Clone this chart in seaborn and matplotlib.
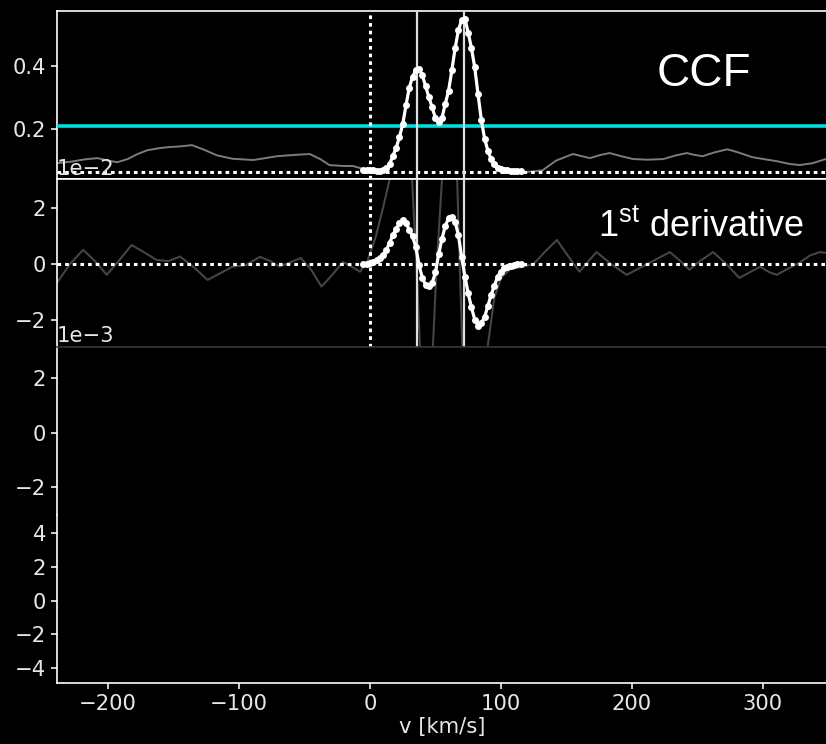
import numpy as np
import pandas as pd
import matplotlib
matplotlib.use("Agg")
import matplotlib.pyplot as plt
import seaborn as sns

# ---- data -------------------------------------------------------------
# fitted window (white points), km/s
v_fit = [-5, -2.5, 0, 2.5, 5, 7.5, 10, 12.5, 15, 17.5, 20, 22.5, 25, 27.5,
         30, 32.5, 35, 37.5, 40, 42.5, 45, 47.5, 50, 52.5, 55, 57.5, 60,
         62.5, 65, 67.5, 70, 72.5, 75, 77.5, 80, 82.5, 85, 87.5, 90, 92.5,
         95, 97.5, 100, 102.5, 105, 107.5, 110, 112.5, 115]
ccf_fit = [0.072, 0.071, 0.070, 0.069, 0.068, 0.068, 0.070, 0.076, 0.090,
           0.115, 0.140, 0.175, 0.215, 0.275, 0.330, 0.365, 0.385, 0.390,
           0.370, 0.335, 0.300, 0.268, 0.235, 0.222, 0.235, 0.280, 0.320,
           0.385, 0.455, 0.512, 0.545, 0.548, 0.505, 0.455, 0.395, 0.310,
           0.230, 0.170, 0.132, 0.105, 0.088, 0.078, 0.073, 0.070, 0.069,
           0.068, 0.068, 0.068, 0.068]
# first derivative in units of 1e-2 per km/s
d1_fit = [0.0, 0.0, 0.02, 0.07, 0.13, 0.20, 0.30, 0.50, 0.75, 1.03, 1.25,
          1.45, 1.55, 1.45, 1.22, 0.98, 0.60, -0.05, -0.50, -0.75, -0.80,
          -0.68, -0.30, 0.35, 0.90, 1.35, 1.62, 1.68, 1.50, 1.03, 0.25,
          -0.45, -1.05, -1.55, -1.98, -2.20, -2.10, -1.90, -1.50, -1.10,
          -0.78, -0.45, -0.28, -0.16, -0.10, -0.06, -0.03, -0.01, 0.0]

# full-range CCF (grey)
v_ccf_left = [-239, -228, -218, -208, -200, -193, -185, -178, -170, -160,
              -153, -145, -136, -127, -117, -105, -89, -80, -71, -58, -46,
              -38, -31, -20, -13, -7]
ccf_left = [0.092, 0.097, 0.104, 0.108, 0.100, 0.095, 0.105, 0.120, 0.133,
            0.140, 0.143, 0.145, 0.149, 0.135, 0.117, 0.106, 0.102, 0.108,
            0.114, 0.118, 0.121, 0.105, 0.086, 0.083, 0.083, 0.076]
v_ccf_right = [117, 125, 132, 142, 155, 162, 168, 176, 183, 192, 201, 212,
               224, 233, 242, 248, 254, 263, 273, 282, 292, 302, 311, 320,
               328, 338, 348, 360]
ccf_right = [0.064, 0.066, 0.070, 0.100, 0.121, 0.114, 0.108, 0.118, 0.124,
             0.114, 0.105, 0.103, 0.105, 0.116, 0.124, 0.118, 0.114, 0.126,
             0.136, 0.125, 0.111, 0.104, 0.098, 0.090, 0.086, 0.092, 0.105,
             0.112]

# full-range first derivative (grey), units of 1e-2 per km/s
v_d1_grey = [-239, -229, -219, -210, -201, -192, -182, -172, -163, -154,
             -145, -135, -124, -115, -105, -95, -84, -76, -69, -61, -53,
             -45, -37, -29, -20.6, -14, -7.6, -2, 4, 10, 15, 20, 26, 31,
             35.5, 40, 44, 48, 51, 55, 60, 65, 68.5, 72, 80, 86, 90, 95,
             100, 107, 117, 125, 134, 142.7, 151, 160, 166, 173, 184, 196,
             212, 229, 237, 244, 252, 262, 272, 282, 290, 298, 305, 310.7,
             318, 328, 336, 343.5, 350, 360]
d1_grey = [-0.67, 0.0, 0.50, 0.10, -0.39, 0.10, 0.67, 0.40, 0.14, 0.10,
           0.26, -0.10, -0.57, -0.35, -0.10, -0.05, 0.25, 0.10, -0.10, 0.05,
           0.21, -0.20, -0.81, -0.40, 0.07, -0.10, -0.28, 0.10, 0.90, 2.0,
           3.0, 4.5, 5.0, 4.0, 0.0, -5.0, -6.0, -3.0, 0.0, 3.0, 6.0, 5.5,
           0.0, -5.0, -8.0, -5.0, -2.9, -1.2, -0.5, -0.2, -0.10, 0.0, 0.45,
           0.85, 0.30, -0.28, 0.05, 0.42, 0.0, -0.39, 0.0, 0.42, 0.10, -0.21,
           0.10, 0.42, 0.0, -0.50, -0.30, -0.10, -0.30, -0.39, -0.20, 0.04,
           0.30, 0.42, 0.38, 0.20]

ccf_threshold = 0.209
ccf_zero = 0.065
v_centre = 0.0
v_peaks = [35.6, 71.8]

xlim = (-239, 349)

# ---- style ------------------------------------------------------------
FS = 15.2
sns.set_theme(style="dark", rc={
    "figure.facecolor": "black",
    "axes.facecolor": "black",
    "axes.edgecolor": "white",
    "axes.linewidth": 1.2,
    "text.color": "white",
    "axes.labelcolor": "#e6e6e6",
    "xtick.color": "#e6e6e6",
    "ytick.color": "#e6e6e6",
    "xtick.bottom": True,
    "ytick.left": True,
    "xtick.direction": "out",
    "ytick.direction": "out",
    "xtick.major.size": 4.5,
    "ytick.major.size": 4.5,
    "xtick.labelsize": FS,
    "ytick.labelsize": FS,
    "axes.labelsize": FS,
    "axes.grid": False,
    "mathtext.fontset": "custom",
    "mathtext.rm": "Liberation Sans",
})
plt.rcParams["font.family"] = ["DejaVu Sans"]

W, H = 826, 744
fig = plt.figure(figsize=(W / 100, H / 100), dpi=100)

left_px, right_px = 57, 827
edges = [11, 179, 346.5, 514.75, 683]
axes = []
for i in range(4):
    top, bot = edges[i], edges[i + 1]
    ax = fig.add_axes([left_px / W, 1 - bot / H,
                       (right_px - left_px) / W, (bot - top) / H])
    ax.set_xlim(*xlim)
    ax.spines["right"].set_visible(False)
    axes.append(ax)
ax1, ax2, ax3, ax4 = axes

dot = (0, (1.2, 1.3))

# ---- panel 1: CCF -----------------------------------------------------
grey_ccf = pd.DataFrame({
    "v": v_ccf_left + v_fit + v_ccf_right,
    "ccf": ccf_left + ccf_fit + ccf_right,
})
sns.lineplot(data=grey_ccf, x="v", y="ccf", ax=ax1, sort=False,
             color="#7c7c7c", lw=1.4, zorder=2)
ax1.axhline(ccf_threshold, color="#00dede", lw=2.6, zorder=3)
ax1.axhline(ccf_zero, color="white", lw=2.2, ls=dot, zorder=3)
fit = pd.DataFrame({"v": v_fit, "ccf": ccf_fit,
                    "d1": np.array(d1_fit) * 1e-2})
sns.lineplot(data=fit, x="v", y="ccf", ax=ax1, sort=False, color="white",
             lw=2.3, marker="o", markersize=5, markeredgewidth=0, zorder=5)
ax1.set_ylim(0.042, 0.573)
ax1.set_yticks([0.2, 0.4])
ax1.text(0.779, 0.554, "CCF", transform=ax1.transAxes, fontsize=33,
         family=["Liberation Sans", "DejaVu Sans"], ha="left", va="baseline",
         color="white")

# ---- panel 2: first derivative ---------------------------------------
grey_d1 = pd.DataFrame({"v": v_d1_grey, "d1": np.array(d1_grey) * 1e-2})
sns.lineplot(data=grey_d1, x="v", y="d1", ax=ax2, sort=False,
             color="#454545", lw=1.5, zorder=2)
ax2.axhline(0, color="white", lw=2.2, ls=dot, zorder=3)
sns.lineplot(data=fit, x="v", y="d1", ax=ax2, sort=False, color="white",
             lw=2.3, marker="o", markersize=5, markeredgewidth=0, zorder=5)
ax2.set_ylim(-2.94e-2, 3.02e-2)
ax2.set_yticks([-2e-2, 0, 2e-2])
ax2.text(0.7026, 0.654, r"1$^{\mathrm{st}}$ derivative",
         transform=ax2.transAxes, fontsize=26,
         family=["Liberation Sans", "DejaVu Sans"], ha="left",
         va="baseline", color="white")
ax2.spines["bottom"].set_color("#333333")

for ax in (ax1, ax2):
    ax.axvline(v_centre, color="white", lw=2.2, ls=dot, zorder=4)
    for vp in v_peaks:
        ax.axvline(vp, color="#dddddd", lw=1.6, zorder=4)

# ---- panels 3 and 4 ---------------------------------------------------
ax3.set_ylim(-3.0e-3, 3.17e-3)
ax3.set_yticks([-2e-3, 0, 2e-3])
ax3.spines["top"].set_color("#333333")
ax3.spines["bottom"].set_visible(False)
ax4.set_ylim(-4.9, 5.1)
ax4.set_yticks([-4, -2, 0, 2, 4])
ax4.spines["top"].set_visible(False)

for ax in (ax2, ax3):
    ax.ticklabel_format(axis="y", style="sci", scilimits=(0, 0))

for ax in (ax1, ax2, ax3):
    ax.tick_params(axis="x", bottom=False, labelbottom=False)
    ax.set_xlabel("")
for ax in axes:
    ax.set_ylabel("")
    ax.yaxis.get_offset_text().set_fontsize(FS)
    ax.yaxis.get_offset_text().set_color("#e6e6e6")

ax4.set_xticks([-200, -100, 0, 100, 200, 300])
ax4.set_xlabel("v [km/s]", labelpad=2)

fig.savefig("out.png", dpi=100, facecolor="black")
